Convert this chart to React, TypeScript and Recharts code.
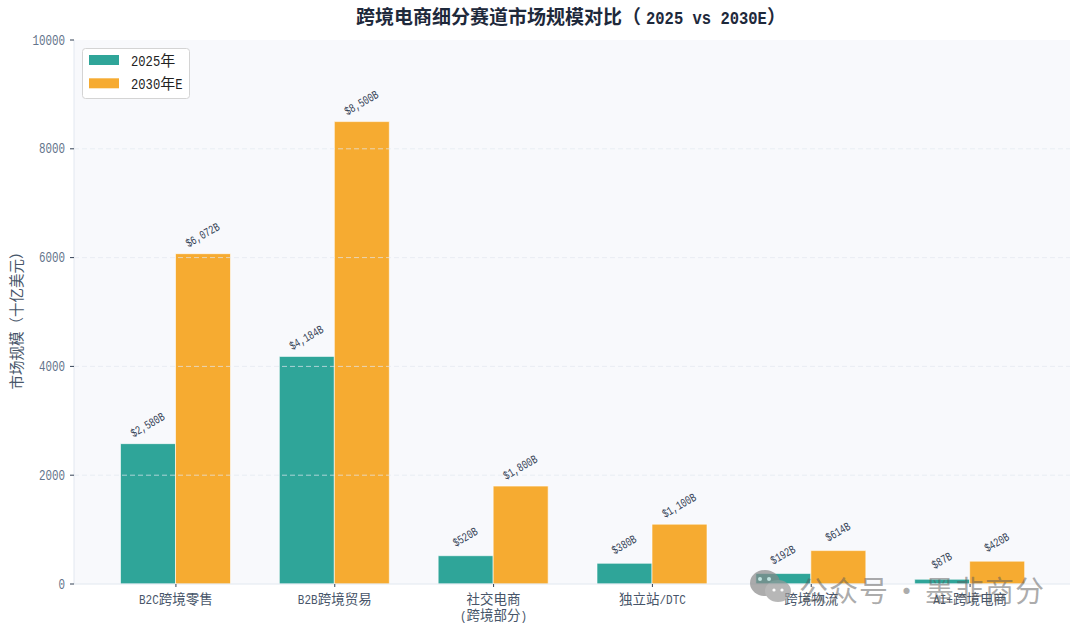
import React from "react";
import {
  BarChart,
  Bar,
  XAxis,
  YAxis,
  CartesianGrid,
  LabelList,
  ReferenceLine,
} from "recharts";

const categories = [
  "B2C跨境零售",
  "B2B跨境贸易",
  "社交电商\n(跨境部分)",
  "独立站/DTC",
  "跨境物流",
  "AI+跨境电商",
];
const values2025 = [2580, 4184, 520, 380, 192, 87];
const values2030 = [6072, 8500, 1800, 1100, 614, 420];
const yTicks = [0, 2000, 4000, 6000, 8000, 10000];
const seriesNames = ["2025年", "2030年E"];

const data = categories.map((name, i) => ({
  name,
  y2025: values2025[i],
  y2030: values2030[i],
}));

const FONT = '"Liberation Mono", "Noto Sans CJK SC", monospace';
const CJK = '"Noto Sans CJK SC", sans-serif';
const TEAL = "#2fa599";
const ORANGE = "#f6ab31";

const fmt = (v: number) => "$" + v.toLocaleString("en-US") + "B";

// latin runs are squeezed to the narrow width of the original font
const runs = (s: string, charW: number) =>
  s.split(/([\x00-\x7f]+)/).filter(Boolean).map((r, i) =>
    /^[\x00-\x7f]/.test(r) ? (
      <tspan key={i} fontFamily={FONT} textLength={r.length * charW} lengthAdjust="spacingAndGlyphs">
        {r}
      </tspan>
    ) : (
      <tspan key={i} fontFamily={CJK}>
        {r}
      </tspan>
    )
  );

const BarLabel = (props: any) => {
  const { x, y, width, value } = props;
  const cx = x + width / 2;
  const cy = y - 18;
  const label = fmt(value);
  return (
    <text
      x={cx}
      y={cy}
      transform={`rotate(-30 ${cx} ${cy})`}
      textAnchor="middle"
      dominantBaseline="central"
      fontSize={12}
      fontFamily={FONT}
      fill="#334155"
      textLength={label.length * 5.3}
      lengthAdjust="spacingAndGlyphs"
    >
      {label}
    </text>
  );
};

const CategoryTick = (props: any) => {
  const { x, y, payload } = props;
  const lines = String(payload.value).split("\n");
  return (
    <g>
      {lines.map((l, i) => (
        <text key={i} x={x} y={y + 15 + i * 16} textAnchor="middle" fontSize={13.5} fill="#475569">
          {runs(l, 6.6)}
        </text>
      ))}
    </g>
  );
};

const ValueTick = (props: any) => {
  const { x, y, payload } = props;
  const s = String(payload.value);
  return (
    <text
      x={x}
      y={y}
      dy={4.5}
      textAnchor="end"
      fontSize={14}
      fontFamily={FONT}
      fill="#64748b"
      textLength={s.length * 6.5}
      lengthAdjust="spacingAndGlyphs"
    >
      {s}
    </text>
  );
};

const LegendBox = () => (
  <svg width={112} height={54} style={{ position: "absolute", left: 81, top: 47 }}>
    <rect x={1.5} y={1.5} width={107} height={50} rx={3} fill="#fff" stroke="#d4d4d4" />
    {seriesNames.map((t, i) => (
      <g key={t}>
        <rect x={8} y={8 + i * 23.3} width={30} height={10} fill={i === 0 ? TEAL : ORANGE} />
        <text x={50} y={18.5 + i * 23} fontSize={15} fill="#222">
          {runs(t, 7.3)}
        </text>
      </g>
    ))}
  </svg>
);

export default function App() {
  return (
    <div style={{ position: "absolute", left: 0, top: 0, width: 1080, height: 632, background: "#fff" }}>
      <BarChart
        width={1080}
        height={632}
        data={data}
        margin={{ top: 40, right: 10, bottom: 0, left: 0 }}
        barSize={55}
        barGap={0}
      >
        <CartesianGrid horizontal={false} vertical={false} fill="#f8f9fc" />
        <XAxis
          dataKey="name"
          padding={{ left: 22.5, right: 20.5 }}
          interval={0}
          height={48}
          tick={<CategoryTick />}
          tickLine={{ stroke: "#334155" }}
          tickSize={3}
          axisLine={{ stroke: "#e2e8f0" }}
        />
        <YAxis
          width={74}
          domain={[0, 10000]}
          ticks={yTicks}
          tick={<ValueTick />}
          tickLine={{ stroke: "#334155" }}
          tickSize={4}
          tickMargin={5}
          axisLine={{ stroke: "#e2e8f0" }}
          label={{
            value: "市场规模（十亿美元）",
            angle: -90,
            position: "insideLeft",
            offset: 17,
            dy: 5,
            style: { fontSize: 14.5, fill: "#475569", fontFamily: CJK, textAnchor: "middle" },
          }}
        />
        <Bar dataKey="y2025" name="2025年" fill={TEAL} stroke="#ffffff" strokeOpacity={0.6} isAnimationActive={false}>
          <LabelList dataKey="y2025" content={<BarLabel />} />
        </Bar>
        <Bar dataKey="y2030" name="2030年E" fill={ORANGE} stroke="#ffffff" strokeOpacity={0.6} isAnimationActive={false}>
          <LabelList dataKey="y2030" content={<BarLabel />} />
        </Bar>
        {yTicks.slice(1, 5).map((t) => (
          <ReferenceLine
            key={t}
            y={t}
            stroke="#e2e8f0"
            strokeOpacity={0.7}
            strokeDasharray="5 3"
            {...({ isFront: true, zIndex: 500 } as any)}
          />
        ))}
      </BarChart>
      <svg width={1080} height={34} style={{ position: "absolute", left: 0, top: 0 }}>
        <g fontSize={19} fontWeight={700} fill="#1e293b">
          <text x={356} y={24} fontFamily={CJK}>
            跨境电商细分赛道市场规模对比（
          </text>
          <text x={646} y={24} fontFamily={FONT} textLength={13 * 9.3} lengthAdjust="spacingAndGlyphs">
            2025 vs 2030E
          </text>
          <text x={767} y={24} fontFamily={CJK}>
            ）
          </text>
        </g>
      </svg>
      <LegendBox />
      <svg width={60} height={40} style={{ position: "absolute", left: 745, top: 566, opacity: 0.7 }}>
        <ellipse cx={20} cy={17} rx={15} ry={13} fill="#8a8a8a" />
        <ellipse cx={33} cy={25} rx={13} ry={11} fill="#9a9a9a" />
        <circle cx={15} cy={13} r={2} fill="#fff" />
        <circle cx={24} cy={13} r={2} fill="#fff" />
        <circle cx={29} cy={24} r={1.6} fill="#fff" />
        <circle cx={37} cy={24} r={1.6} fill="#fff" />
      </svg>
      <div
        style={{
          position: "absolute",
          left: 799,
          top: 568,
          fontFamily: CJK,
          fontSize: 29,
          letterSpacing: 1,
          whiteSpace: "nowrap",
          color: "rgba(90,90,90,0.5)",
        }}
      >
        公众号<span style={{ margin: "0 3px" }}>·</span>墨非商分
      </div>
    </div>
  );
}
